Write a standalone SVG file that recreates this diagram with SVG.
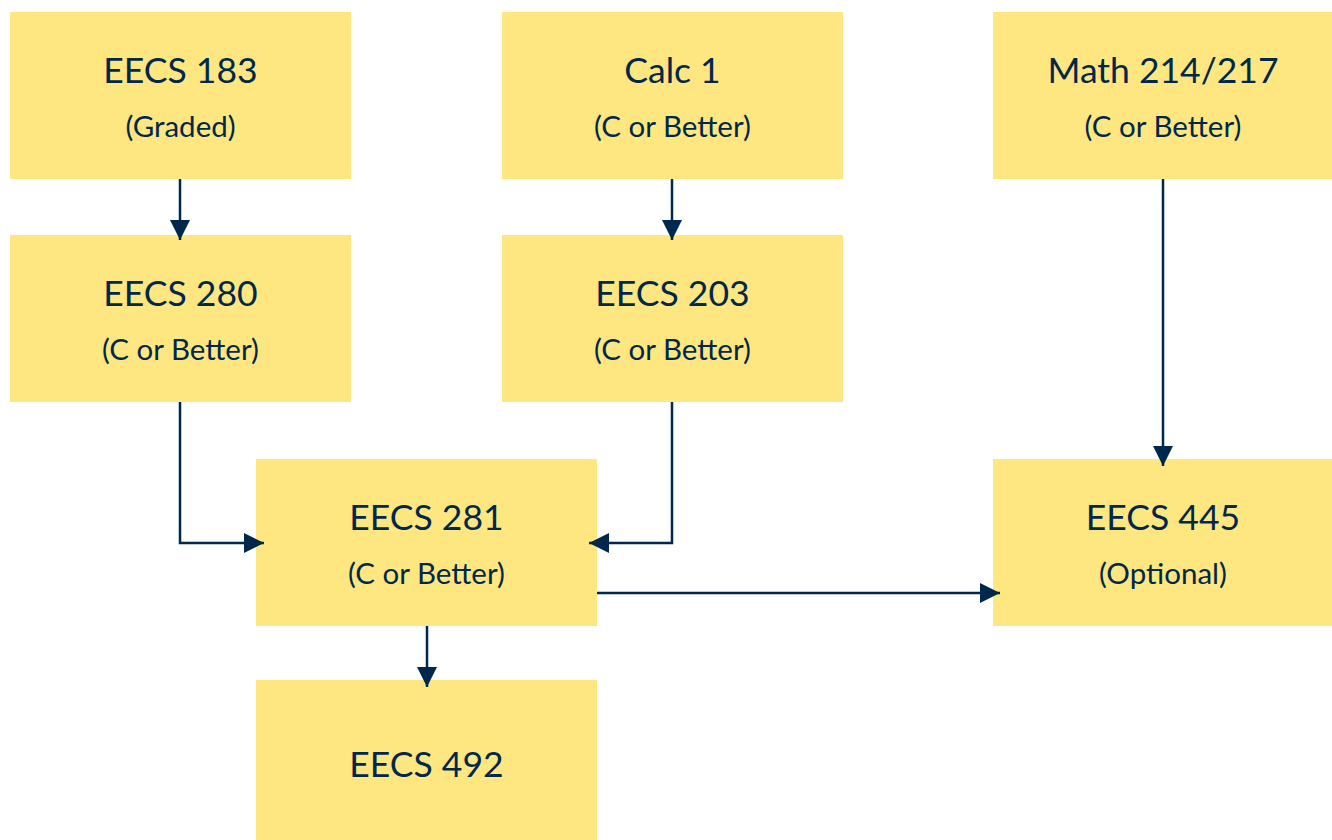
<svg xmlns="http://www.w3.org/2000/svg" width="1332" height="840" viewBox="0 0 1332 840">
<defs>
<style>
.box{fill:#FEE680}
.t{font-family:"Lato","Open Sans","Liberation Sans",sans-serif;fill:#00274C;text-anchor:middle;font-size:35.5px}
.s{font-family:"Lato","Open Sans","Liberation Sans",sans-serif;fill:#00274C;text-anchor:middle;font-size:29.5px}
.c{fill:none;stroke:#00274C;stroke-width:2.5}
</style>
<marker id="ah" markerUnits="userSpaceOnUse" markerWidth="22" markerHeight="22" viewBox="0 0 22 22" refX="20" refY="11" orient="auto">
<path d="M0,1 L20,11 L0,21 Z" fill="#00274C"/>
</marker>
</defs>
<rect width="1332" height="840" fill="#FFFFFF"/>
<g id="n183"><rect class="box" x="10" y="12" width="341" height="167"/><text class="t" x="180.5" y="83">EECS 183</text><text class="s" x="180.5" y="137">(Graded)</text></g>
<g id="calc1"><rect class="box" x="502" y="12" width="341" height="167"/><text class="t" x="672.5" y="83">Calc 1</text><text class="s" x="672.5" y="137">(C or Better)</text></g>
<g id="math"><rect class="box" x="993" y="12" width="339" height="167"/><text class="t" x="1163" y="83">Math 214/217</text><text class="s" x="1163" y="137">(C or Better)</text></g>
<g id="n280"><rect class="box" x="10" y="235" width="341" height="167"/><text class="t" x="180.5" y="306">EECS 280</text><text class="s" x="180.5" y="360">(C or Better)</text></g>
<g id="n203"><rect class="box" x="502" y="235" width="341" height="167"/><text class="t" x="672.5" y="306">EECS 203</text><text class="s" x="672.5" y="360">(C or Better)</text></g>
<g id="n281"><rect class="box" x="256" y="459" width="341" height="167"/><text class="t" x="426.5" y="530">EECS 281</text><text class="s" x="426.5" y="584">(C or Better)</text></g>
<g id="n445"><rect class="box" x="993" y="459" width="339" height="167"/><text class="t" x="1163" y="530">EECS 445</text><text class="s" x="1163" y="584">(Optional)</text></g>
<g id="n492"><rect class="box" x="256" y="680" width="341" height="160"/><text class="t" x="426.5" y="777">EECS 492</text></g>
<g id="connectors">
<path class="c" d="M180,179 V240" marker-end="url(#ah)"/>
<path class="c" d="M672,179 V240" marker-end="url(#ah)"/>
<path class="c" d="M1163,179 V466" marker-end="url(#ah)"/>
<path class="c" d="M180,402 V543 H264" marker-end="url(#ah)"/>
<path class="c" d="M672,402 V543 H589" marker-end="url(#ah)"/>
<path class="c" d="M597,593 H1000" marker-end="url(#ah)"/>
<path class="c" d="M427,626 V687" marker-end="url(#ah)"/>
</g>
</svg>
